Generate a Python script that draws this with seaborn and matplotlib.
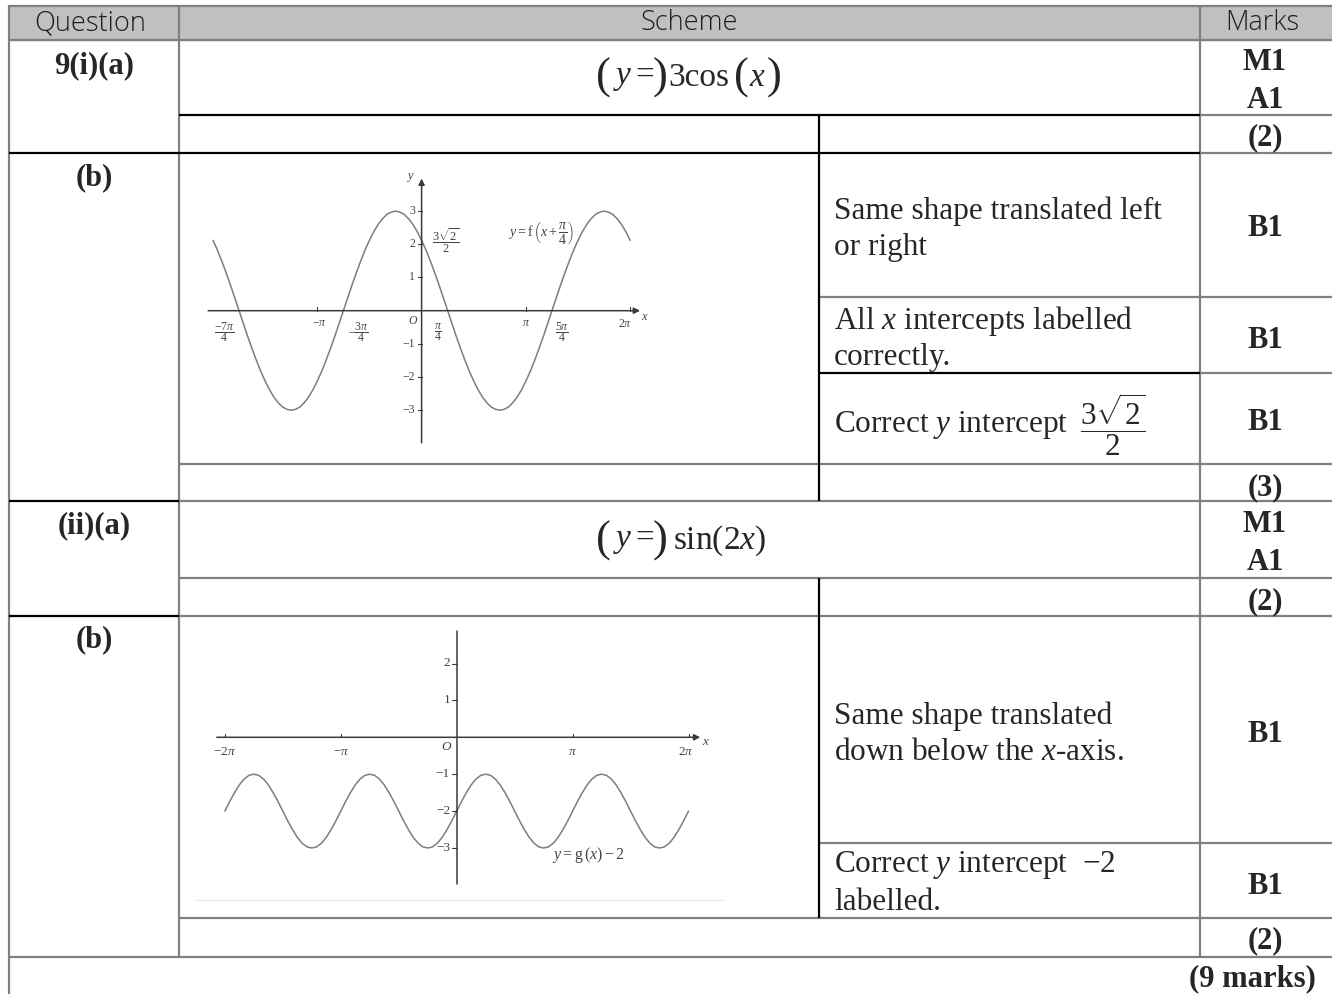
import numpy as np
import pandas as pd
import matplotlib.pyplot as plt
import seaborn as sns

sns.set_theme(style="white")
plt.rcParams['font.family'] = ['Liberation Serif', 'DejaVu Serif']
plt.rcParams['mathtext.fontset'] = 'custom'
plt.rcParams['mathtext.rm'] = 'Liberation Serif'
plt.rcParams['mathtext.it'] = 'Liberation Serif:italic'
plt.rcParams['mathtext.bf'] = 'Liberation Serif:bold'
plt.rcParams['mathtext.sf'] = 'Liberation Serif'

# ---- table content ----
headers = ["Question", "Scheme", "Marks"]
parts = ["9(i)(a)", "(b)", "(ii)(a)", "(b)"]
marks = ["M1", "A1", "(2)", "B1", "B1", "B1", "(3)", "M1", "A1", "(2)", "B1", "B1", "(2)"]
comments = [
    ["Same shape translated left", "or right"],
    ["All $x$ intercepts labelled", "correctly."],
    ["Correct $y$ intercept"],
    ["Same shape translated", "down below the $x$-axis."],
    ["Correct $y$ intercept  \u22122", "labelled."],
]
total = "(9 marks)"

# ---- curves: x in steps of pi/24 from -2pi to 2pi ----
x_steps = list(range(-48, 49))
# one period of y = f(x + pi/4), read from x = -2pi onwards
f_cycle = [2.12, 1.83, 1.50, 1.15, 0.78, 0.39, 0, -0.39, -0.78, -1.15, -1.50, -1.83,
           -2.12, -2.38, -2.60, -2.77, -2.90, -2.97, -3.00, -2.97, -2.90, -2.77, -2.60, -2.38,
           -2.12, -1.83, -1.50, -1.15, -0.78, -0.39, 0, 0.39, 0.78, 1.15, 1.50, 1.83,
           2.12, 2.38, 2.60, 2.77, 2.90, 2.97, 3.00, 2.97, 2.90, 2.77, 2.60, 2.38]
f_vals = f_cycle * 2 + [2.12]
# one period of y = g(x) - 2
g_cycle = [-2, -1.74, -1.5, -1.29, -1.13, -1.03, -1, -1.03, -1.13, -1.29, -1.5, -1.74,
           -2, -2.26, -2.5, -2.71, -2.87, -2.97, -3, -2.97, -2.87, -2.71, -2.5, -2.26]
g_vals = g_cycle * 4 + [-2]

W, H = 1332, 994
fig = plt.figure(figsize=(W / 100, H / 100), dpi=100)
ax = fig.add_axes([0, 0, 1, 1])
ax.set_xlim(0, W)
ax.set_ylim(H, 0)
ax.set_axis_off()

GRAY = "#808080"
LW = 1.6
FS = 22.5
FSB = 22
DY = 3

# header band
ax.add_patch(plt.Rectangle((9, 5.5), W - 9, 34.5, color="#c0c0c0", zorder=0))

def hl(y, x0, x1, c=GRAY):
    ax.plot([x0, x1], [y, y], color=c, lw=LW, solid_capstyle="butt", zorder=2)

def vl(x, y0, y1, c=GRAY):
    ax.plot([x, x], [y0, y1], color=c, lw=LW, solid_capstyle="butt", zorder=2)

# gray grid
hl(5.5, 8, W)
vl(9, 5, H)
vl(179, 5, 957)
vl(1200, 5, 957)
hl(40, 9, W)
hl(115, 1200, W)
hl(153, 1200, W)
hl(297, 819, W)
hl(373, 1200, W)
for y in [464, 501, 578, 615.5, 918]:
    hl(y, 179, W)
hl(843, 819, W)
hl(957, 9, W)
# black rules
hl(115, 179, 1200, "black")
hl(153, 9, 1200, "black")
hl(373, 819, 1200, "black")
hl(501, 9, 179, "black")
hl(615.5, 9, 179, "black")
vl(819, 115, 501, "black")
vl(819, 578, 918, "black")

# header text
for t, x in zip(headers, [90, 689, 1262]):
    ax.text(x, 23.5, t, ha="center", va="center", fontsize=19.5, family="Open Sans",
            fontweight="light", color="#1e1e1e")

# question parts
for t, y in zip(parts, [63, 175, 523, 637]):
    ax.text(94, y + DY, t, ha="center", va="center", fontsize=FSB, fontweight="bold")

# marks
for t, y in zip(marks, [59, 97, 135, 226, 338, 420, 485, 522, 560, 599, 731, 883, 938]):
    ax.text(1265, y + DY, t, ha="center", va="center", fontsize=FSB, fontweight="bold")
ax.text(1316, 976 + DY, total, ha="right", va="center", fontsize=FSB, fontweight="bold")

# comment column
for lines, y0 in zip(comments, [208, 318, 422, 713, 862]):
    for i, line in enumerate(lines):
        ax.text(834, y0 + DY + 37 * i, line, ha="left", va="center", fontsize=FS)
ax.text(1113, 425, r"$\dfrac{3\sqrt{2}}{2}$", ha="center", va="center", fontsize=FS)

# answers with tall brackets
FA = 24
def answer(y, pieces):
    for x, t, fs in pieces:
        ax.text(x, y, t, ha="center", va="center", fontsize=fs)

answer(78, [(603, "(", 32), (634, "$y=$", FA), (660, ")", 32), (699, "3cos", FA),
            (741, "(", 32), (757, "$x$", FA), (774, ")", 32)])
answer(541, [(603, "(", 32), (634, "$y=$", FA), (660, ")", 32), (720, "sin(2$x$)", FA)])

# ---- graph helpers ----
def inset(ox, oy, s, xl, yl):
    left = ox + xl[0] * s
    right = ox + xl[1] * s
    top = oy - yl[1] * s
    bottom = oy - yl[0] * s
    a = fig.add_axes([left / W, 1 - bottom / H, (right - left) / W, (bottom - top) / H])
    a.patch.set_alpha(0)
    return a

CURVE = "#7d7d7d"
AXC = "#3a3a3a"
TXT = "#444444"
arrow = dict(arrowstyle="-|>", color=AXC, lw=1.1, mutation_scale=9, shrinkA=0, shrinkB=0)

# graph 1: y = f(x + pi/4)
xl1, yl1 = (-6.9, 7.1), (-4.2, 4.3)
ax1 = inset(421.6, 310.7, 33.2, xl1, yl1)
df1 = pd.DataFrame({"x": np.array(x_steps) * np.pi / 24, "y": f_vals})
sns.lineplot(data=df1, x="x", y="y", ax=ax1, color=CURVE, lw=1.1)
ax1.set_xlim(*xl1)
ax1.set_ylim(*yl1)
ax1.set_axis_off()
ax1.annotate("", xy=(6.58, 0), xytext=(-6.43, 0), arrowprops=arrow)
ax1.annotate("", xy=(0, 3.98), xytext=(0, -3.98), arrowprops=arrow)
for yv in [-3, -2, -1, 1, 2, 3]:
    ax1.plot([-0.12, 0], [yv, yv], color=AXC, lw=0.8)
    ax1.text(-0.2, yv, str(yv).replace("-", "\u2212"), ha="right", va="center",
             fontsize=8.5, color=TXT)
for xv in [-np.pi, np.pi, 2 * np.pi]:
    ax1.plot([xv, xv], [0, 0.12], color=AXC, lw=0.8)
lab1 = [(-5.95, -0.65, r"$\dfrac{-7\pi}{4}$"), (-3.08, -0.38, r"$-\pi$"),
        (-1.9, -0.65, r"$-\dfrac{3\pi}{4}$"), (-0.26, -0.3, r"$O$"),
        (0.49, -0.65, r"$\dfrac{\pi}{4}$"), (3.14, -0.38, r"$\pi$"),
        (4.24, -0.65, r"$\dfrac{5\pi}{4}$"), (6.12, -0.4, r"$2\pi$")]
for xv, yv, t in lab1:
    ax1.text(xv, yv, t, ha="center", va="center", fontsize=8.5, color=TXT)
ax1.text(6.62, -0.2, "$x$", ha="left", va="center", fontsize=9, color=TXT)
ax1.text(-0.2, 4.0, "$y$", ha="right", va="center", fontsize=9, color=TXT)
ax1.text(0.3, 2.1, r"$\dfrac{3\sqrt{2}}{2}$", ha="left", va="center", fontsize=9, color=TXT)
ax1.text(3.6, 2.35, r"$y=\mathrm{f}\,\left(x+\dfrac{\pi}{4}\right)$", ha="center",
         va="center", fontsize=10, color=TXT)

# graph 2: y = g(x) - 2
xl2, yl2 = (-6.9, 7.2), (-4.3, 3.2)
ax2 = inset(456.7, 737.3, 36.9, xl2, yl2)
df2 = pd.DataFrame({"x": np.array(x_steps) * np.pi / 24, "y": g_vals})
sns.lineplot(data=df2, x="x", y="y", ax=ax2, color=CURVE, lw=1.1)
ax2.set_xlim(*xl2)
ax2.set_ylim(*yl2)
ax2.set_axis_off()
ax2.annotate("", xy=(6.6, 0), xytext=(-6.5, 0), arrowprops=arrow)
ax2.plot([0, 0], [2.88, -3.98], color=AXC, lw=1.1)
for yv in [-3, -2, -1, 1, 2]:
    ax2.plot([-0.12, 0], [yv, yv], color=AXC, lw=0.8)
    ax2.text(-0.18, yv, str(yv).replace("-", "\u2212"), ha="right", va="center",
             fontsize=9.5, color=TXT)
for xv in [-2 * np.pi, -np.pi, np.pi, 2 * np.pi]:
    ax2.plot([xv, xv], [0, 0.1], color=AXC, lw=0.8)
lab2 = [(-6.28, -0.4, r"$-2\pi$"), (-3.14, -0.4, r"$-\pi$"), (-0.26, -0.27, r"$O$"),
        (3.14, -0.4, r"$\pi$"), (6.22, -0.4, r"$2\pi$")]
for xv, yv, t in lab2:
    ax2.text(xv, yv, t, ha="center", va="center", fontsize=9.5, color=TXT)
ax2.text(6.64, -0.12, "$x$", ha="left", va="center", fontsize=9.5, color=TXT)
ax2.text(3.56, -3.2, r"$y=\mathrm{g}\,(x)-2$", ha="center", va="center", fontsize=11.5,
         color=TXT)
ax.plot([194, 725], [900, 900], color="#ececec", lw=1, zorder=1)

fig.savefig("out.png", dpi=100)
